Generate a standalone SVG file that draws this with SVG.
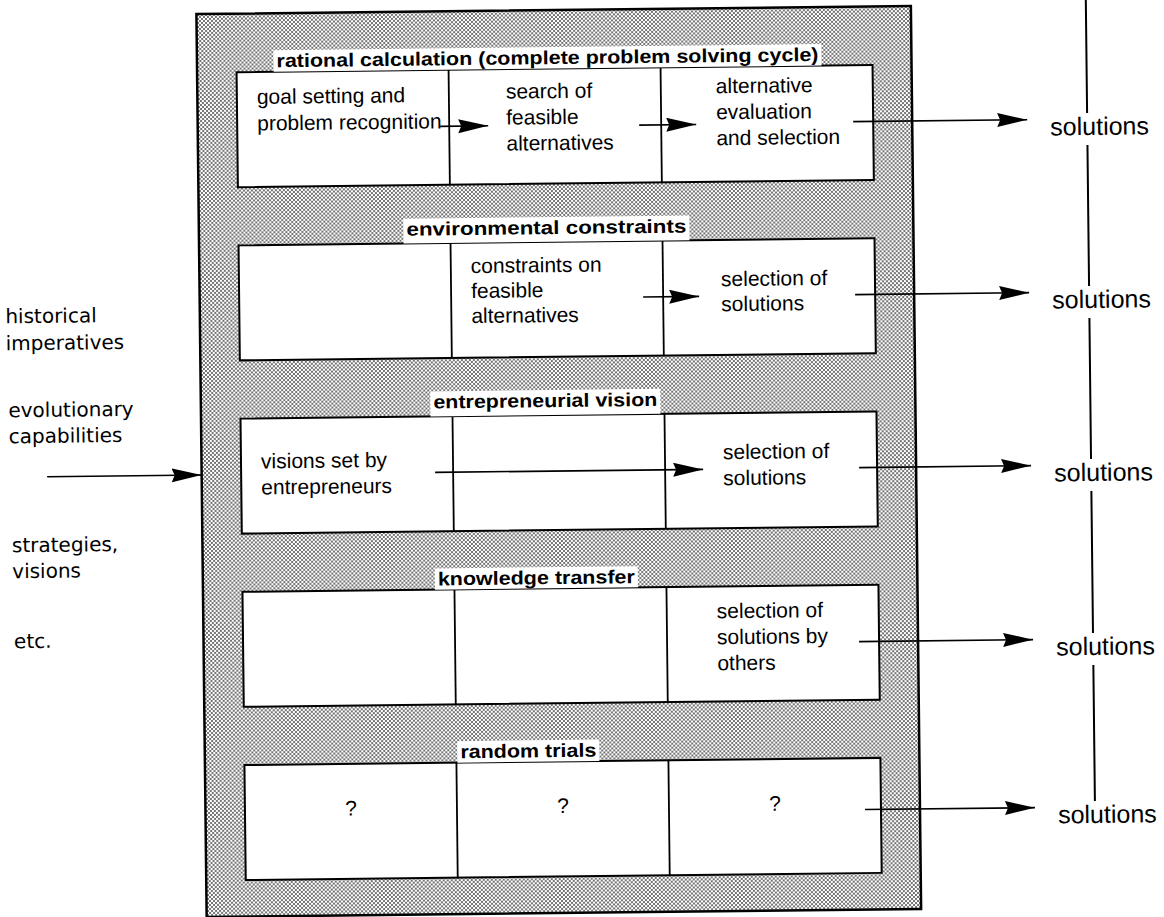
<svg xmlns="http://www.w3.org/2000/svg" width="1164" height="917" viewBox="0 0 1164 917">
<defs>
  <pattern id="dots" width="4" height="4" patternUnits="userSpaceOnUse">
    <rect width="4" height="4" fill="#ffffff"/>
    <circle cx="1" cy="1" r="0.95" fill="#3a3a3a"/>
    <circle cx="3" cy="3" r="0.95" fill="#3a3a3a"/>
  </pattern>
  <marker id="ah" markerUnits="userSpaceOnUse" markerWidth="32" markerHeight="16" refX="30" refY="7" orient="auto" viewBox="0 0 32 16">
    <path d="M0,0 L30,7 L0,14 L3,7 Z" fill="#000"/>
  </marker>
</defs>
<style>
  .frame{fill:url(#dots);stroke:#000;stroke-width:2.5}
  .box{fill:#fff;stroke:#000;stroke-width:2}
  .div{stroke:#000;stroke-width:1.8}
  .t{font-family:"Liberation Sans",Arial,sans-serif;font-size:21px;fill:#000}
  .title{font-family:"Liberation Sans",Arial,sans-serif;font-size:19px;font-weight:bold;fill:#000}
  .tbg{fill:#fff}
  .sol{font-family:"Liberation Sans",Arial,sans-serif;font-size:25px;fill:#000}
  .left{font-family:"DejaVu Sans",sans-serif;font-size:20px;fill:#000}
  .arr{stroke:#000;stroke-width:1.6;fill:none;marker-end:url(#ah)}
  .vline{stroke:#000;stroke-width:2;fill:none}
</style>
<rect width="1164" height="917" fill="#fff"/>
<g transform="rotate(-0.65 560 460)">
  <g id="frame">
    <rect class="frame" x="201.5" y="10" width="714.5" height="903"/>
  </g>

  <g id="row1">
    <rect class="box" x="241" y="68.5" width="636" height="115"/>
    <line class="div" x1="453" y1="68.5" x2="453" y2="183.5"/>
    <line class="div" x1="665" y1="68.5" x2="665" y2="183.5"/>
    <rect class="tbg" x="278" y="47" width="548" height="21.5"/>
    <text class="title" x="281" y="64" textLength="542" lengthAdjust="spacingAndGlyphs">rational calculation (complete problem solving cycle)</text>
    <text class="t" x="261" y="100.5">goal setting and</text>
    <text class="t" x="261" y="127">problem recognition</text>
    <text class="t" x="510" y="98">search of</text>
    <text class="t" x="510" y="124">feasible</text>
    <text class="t" x="510" y="150">alternatives</text>
    <text class="t" x="720" y="95">alternative</text>
    <text class="t" x="720" y="121">evaluation</text>
    <text class="t" x="720" y="147">and selection</text>
  </g>

  <g id="row2">
    <rect class="box" x="241" y="241.75" width="636" height="115"/>
    <line class="div" x1="453" y1="241.75" x2="453" y2="356.75"/>
    <line class="div" x1="665" y1="241.75" x2="665" y2="356.75"/>
    <rect class="tbg" x="406" y="217" width="286" height="24.75"/>
    <text class="title" x="409" y="234" textLength="280" lengthAdjust="spacingAndGlyphs">environmental constraints</text>
    <text class="t" x="473" y="272">constraints on</text>
    <text class="t" x="473" y="297">feasible</text>
    <text class="t" x="473" y="322">alternatives</text>
    <text class="t" x="723" y="288">selection of</text>
    <text class="t" x="723" y="313">solutions</text>
  </g>

  <g id="row3">
    <rect class="box" x="241" y="415" width="636" height="115"/>
    <line class="div" x1="453" y1="415" x2="453" y2="530"/>
    <line class="div" x1="665" y1="415" x2="665" y2="530"/>
    <rect class="tbg" x="431" y="390" width="230" height="25"/>
    <text class="title" x="434" y="407" textLength="224" lengthAdjust="spacingAndGlyphs">entrepreneurial vision</text>
    <text class="t" x="261" y="465">visions set by</text>
    <text class="t" x="261" y="491">entrepreneurs</text>
    <text class="t" x="723" y="461">selection of</text>
    <text class="t" x="723" y="487">solutions</text>
  </g>

  <g id="row4">
    <rect class="box" x="241" y="588.25" width="636" height="115"/>
    <line class="div" x1="453" y1="588.25" x2="453" y2="703.25"/>
    <line class="div" x1="665" y1="588.25" x2="665" y2="703.25"/>
    <rect class="tbg" x="433.5" y="567" width="203" height="21.25"/>
    <text class="title" x="436.5" y="584" textLength="197" lengthAdjust="spacingAndGlyphs">knowledge transfer</text>
    <text class="t" x="715" y="620">selection of</text>
    <text class="t" x="715" y="646">solutions by</text>
    <text class="t" x="715" y="672">others</text>
  </g>

  <g id="row5">
    <rect class="box" x="241" y="761.5" width="636" height="115"/>
    <line class="div" x1="453" y1="761.5" x2="453" y2="876.5"/>
    <line class="div" x1="665" y1="761.5" x2="665" y2="876.5"/>
    <rect class="tbg" x="454" y="740" width="142" height="21.5"/>
    <text class="title" x="457" y="757" textLength="136" lengthAdjust="spacingAndGlyphs">random trials</text>
    <text class="t" x="347" y="813" text-anchor="middle">?</text>
    <text class="t" x="559" y="813" text-anchor="middle">?</text>
    <text class="t" x="771" y="813" text-anchor="middle">?</text>
  </g>

  <g id="inputs">
    <text class="left" x="7" y="317">historical</text>
    <text class="left" x="7" y="344">imperatives</text>
    <text class="left" x="9" y="411">evolutionary</text>
    <text class="left" x="9" y="437">capabilities</text>
    <text class="left" x="11" y="546">strategies,</text>
    <text class="left" x="11" y="572">visions</text>
    <text class="left" x="12" y="642">etc.</text>
  </g>

  <g id="outputs">
    <text class="sol" x="1054" y="141">solutions</text>
    <text class="sol" x="1054" y="314">solutions</text>
    <text class="sol" x="1054" y="487">solutions</text>
    <text class="sol" x="1054" y="661">solutions</text>
    <text class="sol" x="1054" y="829">solutions</text>
  </g>

  <g id="connectors">
    <line class="arr" x1="444" y1="125" x2="492" y2="125"/>
    <line class="arr" x1="643" y1="126" x2="700" y2="126"/>
    <line class="arr" x1="857" y1="125" x2="1031" y2="125"/>
    <line class="arr" x1="645" y1="298" x2="701" y2="298"/>
    <line class="arr" x1="857" y1="298" x2="1031" y2="298"/>
    <line class="arr" x1="435" y1="471" x2="703" y2="471"/>
    <line class="arr" x1="859" y1="471" x2="1031" y2="471"/>
    <line class="arr" x1="857" y1="645" x2="1031" y2="645"/>
    <line class="arr" x1="861" y1="813" x2="1031" y2="813"/>
    <line class="arr" x1="47" y1="471" x2="201.5" y2="471"/>
    <path class="vline" d="M1091,-10 V119 M1091,151 V292 M1091,324 V465 M1091,497 V639 M1091,671 V807"/>
  </g>
</g>
</svg>
